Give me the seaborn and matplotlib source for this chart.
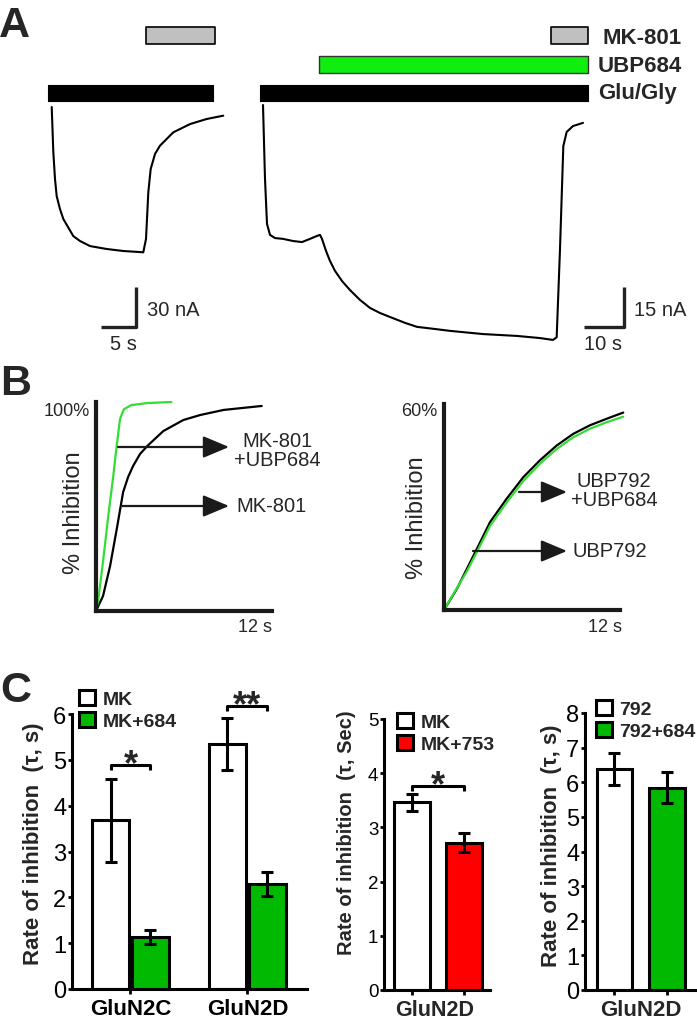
import matplotlib
matplotlib.use("Agg")
import matplotlib.pyplot as plt
import numpy as np
import pandas as pd
import seaborn as sns
from matplotlib.patches import Patch
from matplotlib.patches import ArrowStyle

# ---------------- DATA ----------------
# Panel A, trace 1 (MK-801 alone): time (s), current (nA)
a1_time = [0.53, 0.76, 1.0, 1.24, 1.71, 2.19, 3.61, 4.57, 6.0, 8.39, 10.76, 13.14,
           13.61, 14.0, 14.33, 14.67, 15.29, 16.0, 17.9, 20.29, 22.67, 25.04]
a1_curr = [0, -33.8, -54, -66.8, -76.5, -84, -96.8, -100.5, -104.3, -106.5, -108, -108.8,
           -109, -99, -64, -46.5, -35.2, -29, -19, -12.8, -9, -6.5]
a1_glu = (0.0, 23.6)
a1_mk = (14.0, 23.9)

# Panel A, trace 2 (UBP684 then MK-801)
a2_time = [0.75, 1.25, 1.75, 2.5, 3.75, 5.75, 8.25, 10.5, 12.5, 14.25, 15.0, 15.5, 16.5,
           17.5, 18.75, 20.5, 22.5, 25.0, 27.5, 30.0, 32.5, 36.25, 39.25, 43.75, 47.5,
           55.75, 64.25, 70.0, 73.25, 74.17, 75.0, 75.83, 76.67, 78.25, 80.75]
a2_curr = [0, -27.7, -44.6, -48.7, -49.9, -50.2, -51.0, -51.4, -50.2, -49.1, -48.7, -50.2,
           -54.7, -58.5, -62.2, -66.0, -69.4, -73.1, -76.1, -78.0, -79.5, -81.7, -83.2,
           -84.0, -84.7, -85.9, -86.6, -87.4, -88.1, -87.1, -54, -15.4, -10.1, -7.9, -6.7]
a2_glu = (0.0, 82.0)
a2_ubp = (14.75, 82.0)
a2_mk = (72.75, 82.0)

# Panel B left: % inhibition vs time (s)
b1_green_t = [0, 0.16, 0.5, 0.84, 1.18, 1.41, 1.64, 1.9, 2.4, 3.5, 5.14]
b1_green = [0, 5.7, 24.9, 45.6, 64.7, 79.1, 91.9, 96.5, 98.5, 99.5, 100]
b1_black_t = [0, 0.48, 0.96, 1.44, 1.85, 2.19, 2.53, 3.0, 3.49, 4.59, 5.96, 7.12, 8.70, 11.3]
b1_black = [0, 7.2, 21.5, 40.2, 56.9, 64.1, 69.4, 75.1, 78.9, 86.1, 91.4, 93.8, 96.2, 98.1]

# Panel B right
b2_t = [0, 0.87, 1.55, 2.23, 3.14, 4.27, 5.41, 6.54, 7.68, 8.81, 9.95, 11.09, 12.22]
b2_black = [0, 6.1, 11.9, 17.7, 25.6, 32.4, 38.7, 43.6, 47.9, 51.3, 53.8, 55.7, 57.5]
b2_green = [0, 6.3, 11.2, 16.8, 24.5, 31.3, 37.6, 42.6, 46.9, 50.3, 52.8, 54.7, 56.3]

# Panel C
c1_receptor = ["GluN2C", "GluN2C", "GluN2D", "GluN2D"]
c1_cond = ["MK", "MK+684", "MK", "MK+684"]
c1_tau = [3.68, 1.13, 5.35, 2.29]
c1_err = [0.91, 0.15, 0.57, 0.27]

c2_cond = ["MK", "MK+753"]
c2_tau = [3.46, 2.72]
c2_err = [0.15, 0.17]

c3_cond = ["792", "792+684"]
c3_tau = [6.38, 5.84]
c3_err = [0.47, 0.45]

# ---------------- STYLE ----------------
sns.set_theme(style="white")
plt.rcParams["font.family"] = ["Liberation Sans", "DejaVu Sans"]
plt.rcParams["axes.unicode_minus"] = False

GREEN_A = "#0fee0f"
GREEN_B = "#33dd33"
GREEN_C = "#00b900"
RED_C = "#ff0000"
GREY = "#c0c0c0"

W, H = 697, 1020
fig = plt.figure(figsize=(W / 100, H / 100), dpi=100)
fig.patch.set_facecolor("white")


def add_ax(x0, y0, x1, y1):
    return fig.add_axes([x0 / W, 1 - y1 / H, (x1 - x0) / W, (y1 - y0) / H])


def ptext(x, y, s, **kw):
    fig.text(x / W, 1 - y / H, s, **kw)


# ---------------- PANEL A ----------------
def trace_axes(x0, x1, t0_px, pps, i0_px, ppn):
    ax = add_ax(x0, 0, x1, 360)
    ax.set_xlim((x0 - t0_px) / pps, (x1 - t0_px) / pps)
    ax.set_ylim((i0_px - 360) / ppn, (i0_px - 0) / ppn)
    ax.axis("off")
    return ax, (lambda ypx: (i0_px - ypx) / ppn), (lambda xpx: (xpx - t0_px) / pps)


axA1, iy1, tx1 = trace_axes(30, 250, 48, 7.0, 108, 40 / 30)
axA2, iy2, tx2 = trace_axes(250, 697, 260, 4.0, 106, 40 / 15)


def app_bar(ax, iy, span, ytop, ybot, fc, ec, lw):
    ax.broken_barh([(span[0], span[1] - span[0])], (iy(ybot), iy(ytop) - iy(ybot)),
                   facecolors=fc, edgecolors=ec, linewidth=lw)


app_bar(axA1, iy1, a1_glu, 86, 102, "black", "black", 0.8)
app_bar(axA1, iy1, a1_mk, 28, 45, GREY, "black", 1.2)
app_bar(axA2, iy2, a2_glu, 86, 102, "black", "black", 0.8)
app_bar(axA2, iy2, a2_ubp, 57, 74, GREEN_A, "#333333", 1.0)
app_bar(axA2, iy2, a2_mk, 28, 45, GREY, "black", 1.2)

dfa1 = pd.DataFrame({"t": a1_time, "i": a1_curr})
dfa2 = pd.DataFrame({"t": a2_time, "i": a2_curr})
sns.lineplot(data=dfa1, x="t", y="i", ax=axA1, color="black", lw=1.5, sort=False, estimator=None)
sns.lineplot(data=dfa2, x="t", y="i", ax=axA2, color="black", lw=1.5, sort=False, estimator=None)
axA1.axis("off")
axA2.axis("off")

# scale bars
for ax, iy, tx, cx, dt, di in [(axA1, iy1, tx1, 136, 5, 30), (axA2, iy2, tx2, 624, 10, 15)]:
    tc, ic = tx(cx), iy(328)
    ax.plot([tc - dt, tc, tc], [ic, ic, ic + di], color="#222222", lw=2.4,
            solid_capstyle="butt", clip_on=False)

ptext(147, 311, "30 nA", fontsize=14.5, ha="left", va="center")
ptext(123, 345, "5 s", fontsize=14.5, ha="center", va="center")
ptext(634, 311, "15 nA", fontsize=14.5, ha="left", va="center")
ptext(603, 345, "10 s", fontsize=14.5, ha="center", va="center")

ptext(603, 38, "MK-801", fontsize=16, fontweight="bold", ha="left", va="center")
ptext(598, 66, "UBP684", fontsize=16, fontweight="bold", ha="left", va="center")
ptext(598, 94, "Glu/Gly", fontsize=16, fontweight="bold", ha="left", va="center")

ptext(-1, 37, "A", fontsize=31, fontweight="bold", ha="left", va="baseline")
ptext(0, 395, "B", fontsize=31, fontweight="bold", ha="left", va="baseline")
ptext(0, 702, "C", fontsize=31, fontweight="bold", ha="left", va="baseline")

# ---------------- PANEL B ----------------
def b_axes(x0, y0, x1, y1, ymax):
    ax = add_ax(x0, y0, x1, y1)
    ax.set_xlim(0, 12)
    ax.set_ylim(0, ymax)
    for s in ["top", "right"]:
        ax.spines[s].set_visible(False)
    for s in ["left", "bottom"]:
        ax.spines[s].set_linewidth(3.0)
        ax.spines[s].set_color("#1a1a1a")
    return ax


axB1 = b_axes(96, 403, 272, 612, 100)
sns.lineplot(x=b1_black_t, y=b1_black, ax=axB1, color="black", lw=1.6, sort=False,
             estimator=None, clip_on=False)
sns.lineplot(x=b1_green_t, y=b1_green, ax=axB1, color=GREEN_B, lw=1.6, sort=False,
             estimator=None, clip_on=False)

axB2 = b_axes(444, 405, 620, 611, 60)
sns.lineplot(x=b2_t, y=b2_black, ax=axB2, color="black", lw=1.6, sort=False,
             estimator=None, clip_on=False)
sns.lineplot(x=b2_t, y=b2_green, ax=axB2, color=GREEN_B, lw=1.6, sort=False,
             estimator=None, clip_on=False)
for ax in (axB1, axB2):
    ax.set_xlim(0, 12)
    ax.set_xticks([])
    ax.set_yticks([])
    ax.set_xlabel("")
    ax.set_ylabel("")

ptext(90, 411, "100%", fontsize=13, ha="right", va="center")
ptext(255, 628, "12 s", fontsize=13, ha="center", va="center")
ptext(74, 513, "% Inhibition", fontsize=17, rotation=90, ha="center", va="center")
ptext(437, 412, "60%", fontsize=13, ha="right", va="center")
ptext(605, 628, "12 s", fontsize=13, ha="center", va="center")
ptext(417, 518, "% Inhibition", fontsize=17, rotation=90, ha="center", va="center")

arrow_style = ArrowStyle("-|>", head_length=1.0, head_width=0.42)


def arrow(x0, x1, y):
    fig.add_artist(matplotlib.patches.FancyArrowPatch(
        (x0, H - y), (x1, H - y), transform=None, arrowstyle=arrow_style,
        mutation_scale=16, color="#1a1a1a", lw=1.6, shrinkA=0, shrinkB=0))


arrow(118, 229, 448)
arrow(122, 229, 507)
arrow(519, 567, 493)
arrow(473, 567, 552)
ptext(277, 451, "MK-801\n+UBP684", fontsize=14.5, ha="center", va="center", linespacing=1.0)
ptext(236, 507, "MK-801", fontsize=14.5, ha="left", va="center")
ptext(614, 491, "UBP792\n+UBP684", fontsize=14.5, ha="center", va="center", linespacing=1.0)
ptext(572, 552, "UBP792", fontsize=14.5, ha="left", va="center")

# ---------------- PANEL C ----------------
def style_c(ax, ymax, tick_fs):
    ax.set_ylim(0, ymax)
    ax.set_yticks(range(0, ymax + 1))
    ax.set_yticklabels([str(v) for v in range(0, ymax + 1)], fontsize=tick_fs)
    for s in ["top", "right"]:
        ax.spines[s].set_visible(False)
    for s in ["left", "bottom"]:
        ax.spines[s].set_linewidth(2.2)
        ax.spines[s].set_color("black")
    ax.tick_params(axis="y", left=True, length=3, width=2, pad=1, colors="black")
    ax.tick_params(axis="x", bottom=True, length=3.5, width=2, pad=3, colors="black")
    ax.set_xlabel("")
    ax.set_ylabel("")


def add_errs(ax, centers, tops, errs):
    ax.errorbar(centers, tops, yerr=errs, fmt="none", ecolor="black", elinewidth=2.2,
                capsize=4, capthick=2.2, zorder=5, clip_on=False)


def bracket(ax, x1, x2, y, drop, stars, fs=26):
    ax.plot([x1, x1, x2, x2], [y - drop, y, y, y - drop], color="black", lw=2.2,
            clip_on=False, solid_capstyle="butt")
    ax.annotate(stars, xy=((x1 + x2) / 2, y), xycoords="data", xytext=(0, 1),
                textcoords="offset pixels", ha="center", va="center", fontsize=fs,
                fontweight="bold", annotation_clip=False)


def c_legend(ax, labels, colors, x_px, y_px):
    handles = [Patch(facecolor=c, edgecolor="black", linewidth=2.2) for c in colors]
    ax.legend(handles, labels, loc="upper left", bbox_to_anchor=(x_px / W, 1 - y_px / H),
              bbox_transform=fig.transFigure, frameon=False, borderpad=0, borderaxespad=0,
              handlelength=0.8, handleheight=0.8, handletextpad=0.4, labelspacing=0.2,
              prop={"weight": "bold", "size": 14})


def bars_of(ax):
    out = []
    for cont in ax.containers:
        out.append([b for b in cont if b is not None])
    return out


# C1
axC1 = add_ax(72, 715, 307, 990)
df1 = pd.DataFrame({"receptor": c1_receptor, "cond": c1_cond, "tau": c1_tau})
pal1 = {"MK": "white", "MK+684": GREEN_C}
sns.barplot(data=df1, x="receptor", y="tau", hue="cond", palette=pal1, width=0.68, gap=0.06,
            edgecolor="black", linewidth=2.2, errorbar=None, saturation=1, ax=axC1,
            legend=False)
axC1.set_xlim(-0.5, 1.51)
style_c(axC1, 6, 17)
axC1.set_xticks([0, 1])
axC1.set_xticklabels(["GluN2C", "GluN2D"], fontsize=16, fontweight="bold")
err1 = {(r, c): e for r, c, e in zip(c1_receptor, c1_cond, c1_err)}
recs = list(dict.fromkeys(c1_receptor))
conds = list(dict.fromkeys(c1_cond))
centers1 = {}
for ci, cont in enumerate(bars_of(axC1)):
    for bar in cont:
        cx = bar.get_x() + bar.get_width() / 2
        ri = int(round(cx))
        centers1[(recs[ri], conds[ci])] = cx
        add_errs(axC1, [cx], [bar.get_height()], [err1[(recs[ri], conds[ci])]])
ppu1 = 275 / 6
bracket(axC1, centers1[("GluN2C", "MK")], centers1[("GluN2C", "MK+684")], 4.88, 5 / ppu1, "*")
bracket(axC1, centers1[("GluN2D", "MK")], centers1[("GluN2D", "MK+684")], 6.17, 5 / ppu1, "**")
c_legend(axC1, conds, [pal1[c] for c in conds], 79, 691)
ptext(34, 844, "Rate of inhibition  (τ, s)", fontsize=16, fontweight="bold", rotation=90,
      ha="center", va="center")

# C2
axC2 = add_ax(384, 720, 490, 991)
df2 = pd.DataFrame({"cond": c2_cond, "tau": c2_tau})
pal2 = {"MK": "white", "MK+753": RED_C}
sns.barplot(data=df2, x="cond", y="tau", hue="cond", palette=pal2, width=0.68,
            edgecolor="black", linewidth=2.2, errorbar=None, saturation=1, ax=axC2,
            legend=False)
axC2.set_xlim(-0.53, 1.49)
style_c(axC2, 5, 13.5)
axC2.set_xticks([0, 1])
axC2.set_xticklabels(["", ""])
centers2 = {}
for cont in bars_of(axC2):
    for bar in cont:
        cx = bar.get_x() + bar.get_width() / 2
        idx = int(round(cx))
        centers2[c2_cond[idx]] = cx
        add_errs(axC2, [cx], [bar.get_height()], [c2_err[idx]])
bracket(axC2, centers2["MK"], centers2["MK+753"], 3.76, 5 / 54.2, "*")
axC2.annotate("GluN2D", xy=(0.5, 0), xycoords=("data", "axes fraction"), xytext=(-3, -20),
              textcoords="offset pixels", ha="center", va="center", fontsize=15.5,
              fontweight="bold", annotation_clip=False)
c_legend(axC2, c2_cond, [pal2[c] for c in c2_cond], 397, 714)
ptext(347, 833, "Rate of inhibition  (τ, Sec)", fontsize=14.5, fontweight="bold", rotation=90,
      ha="center", va="center")

# C3
axC3 = add_ax(585, 714, 695, 991)
df3 = pd.DataFrame({"cond": c3_cond, "tau": c3_tau})
pal3 = {"792": "white", "792+684": GREEN_C}
sns.barplot(data=df3, x="cond", y="tau", hue="cond", palette=pal3, width=0.68,
            edgecolor="black", linewidth=2.2, errorbar=None, saturation=1, ax=axC3,
            legend=False)
axC3.set_xlim(-0.56, 1.54)
style_c(axC3, 8, 17)
axC3.set_xticks([0, 1])
axC3.set_xticklabels(["", ""])
for cont in bars_of(axC3):
    for bar in cont:
        cx = bar.get_x() + bar.get_width() / 2
        idx = int(round(cx))
        add_errs(axC3, [cx], [bar.get_height()], [c3_err[idx]])
axC3.annotate("GluN2D", xy=(0.5, 0), xycoords=("data", "axes fraction"), xytext=(0, -20),
              textcoords="offset pixels", ha="center", va="center", fontsize=16,
              fontweight="bold", annotation_clip=False)
c_legend(axC3, c3_cond, [pal3[c] for c in c3_cond], 596, 701)
ptext(552, 846, "Rate of inhibition  (τ, s)", fontsize=16, fontweight="bold", rotation=90,
      ha="center", va="center")

fig.savefig("out.png", dpi=100, facecolor="white")
